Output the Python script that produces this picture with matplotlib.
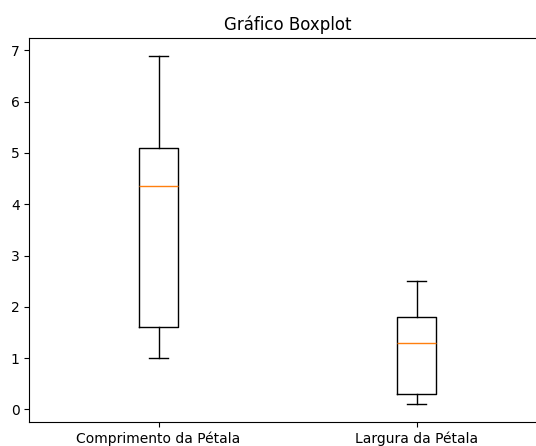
import matplotlib.pyplot as plt

# Resumo dos dados
rotulos = ['Comprimento da Pétala', 'Largura da Pétala']
minimos = [1.0, 0.1]
q1s = [1.6, 0.3]
medianas = [4.35, 1.3]
q3s = [5.1, 1.8]
maximos = [6.9, 2.5]

stats = []
for i in range(len(rotulos)):
    stats.append({
        'label': rotulos[i],
        'whislo': minimos[i],
        'q1': q1s[i],
        'med': medianas[i],
        'q3': q3s[i],
        'whishi': maximos[i],
        'fliers': [],
    })

fig = plt.figure(figsize=(5.36, 4.46), dpi=100)
# o eixo passa da borda direita (imagem original cortada)
ax = fig.add_axes([0.055, 0.0545, 0.963, 0.860])
ax.bxp(stats)
ax.spines['right'].set_visible(False)
ax.set_title('Gráfico Boxplot')

plt.savefig('out.png', dpi=100)
